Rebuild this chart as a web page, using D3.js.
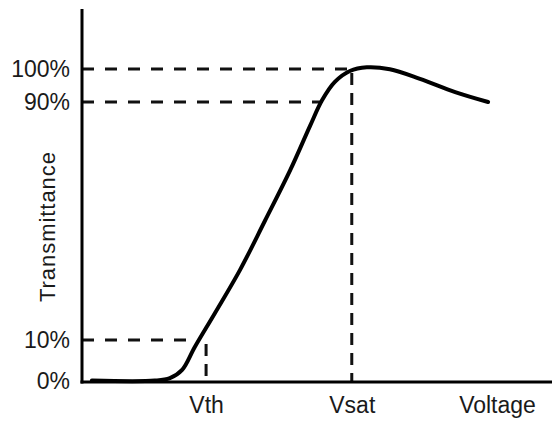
<!DOCTYPE html>
<html>
<head>
<meta charset="utf-8">
<script src="https://cdn.jsdelivr.net/npm/d3@7"></script>
<style>
  body { margin: 0; background: #fff; }
  svg { display: block; }
  text { font-family: "Liberation Sans", Arial, sans-serif; fill: #1a1a1a; }
</style>
</head>
<body>
<div id="chart"></div>
<script>
// voltage in arbitrary units (0..100), transmittance in %
const voltage = [2.1, 15.5, 18.7, 21.3, 24.0, 28.3, 33.6, 38.9, 44.3, 48.5, 51.1, 53.8, 57.0, 60.6, 65.5, 71.9, 79.4, 86.4];
const transmittance = [0.1, 0.1, 0.7, 2.7, 8.3, 19.1, 33.5, 50.0, 67.1, 81.9, 90.6, 96.1, 99.4, 100.5, 99.9, 97.0, 93.0, 90];

const yTicks = [0, 10, 90, 100];
const xTickValues = [26.4, 57.4, 88.3];
const xTickLabels = ["Vth", "Vsat", "Voltage"];

// dashed guides: horizontal level -> voltage where it stops
const hGuideLevels = [100, 90, 10];
const hGuideEnds = [57.4, 50.6, 23.4];
// vertical guides: voltage -> level where it starts
const vGuideVolts = [26.4, 57.4];
const vGuideTops = [10, 100];

const width = 552, height = 424;
const axisTop = 9;

const svg = d3.select('#chart').append('svg')
  .attr('width', width)
  .attr('height', height);

const x = d3.scaleLinear().domain([0, 100]).range([82, 552]);
// schematic chart: the percentage spacing is not uniform
const y = d3.scaleLinear().domain([0, 10, 90, 100]).range([381, 340, 102, 69]);

// dashed guides
svg.append('g').selectAll('line')
  .data(hGuideLevels)
  .enter().append('line')
  .attr('x1', x(0))
  .attr('x2', (d, i) => x(hGuideEnds[i]))
  .attr('y1', d => y(d))
  .attr('y2', d => y(d))
  .attr('stroke', '#111')
  .attr('stroke-width', 3)
  .attr('stroke-dasharray', '12,11');

svg.append('g').selectAll('line')
  .data(vGuideVolts)
  .enter().append('line')
  .attr('x1', d => x(d))
  .attr('x2', d => x(d))
  .attr('y1', (d, i) => y(vGuideTops[i]) + 4)
  .attr('y2', y(0))
  .attr('stroke', '#111')
  .attr('stroke-width', 3)
  .attr('stroke-dasharray', '12,8');

// axes
const yAxis = svg.append('g')
  .attr('transform', 'translate(' + x(0) + ',0)')
  .call(d3.axisLeft(y).tickValues(yTicks).tickSize(0).tickPadding(12).tickFormat(d => d + '%'));
yAxis.select('.domain').remove();
yAxis.selectAll('text').style('font-size', '23px');

const xAxis = svg.append('g')
  .attr('transform', 'translate(0,' + (y(0) + 1) + ')')
  .call(d3.axisBottom(x).tickValues(xTickValues).tickSize(0).tickPadding(15)
    .tickFormat((d, i) => xTickLabels[i]));
xAxis.select('.domain').remove();
xAxis.selectAll('text').style('font-size', '23px');

svg.append('line')
  .attr('x1', x(0)).attr('x2', x(0))
  .attr('y1', axisTop).attr('y2', y(0) + 2.5)
  .attr('stroke', '#000').attr('stroke-width', 3);
svg.append('line')
  .attr('x1', x(0) - 1.5).attr('x2', width)
  .attr('y1', y(0) + 1).attr('y2', y(0) + 1)
  .attr('stroke', '#000').attr('stroke-width', 3);

// y title
svg.append('text')
  .attr('transform', 'translate(55,227) rotate(-90)')
  .attr('text-anchor', 'middle')
  .attr('textLength', 150)
  .attr('lengthAdjust', 'spacing')
  .style('font-size', '22px')
  .text('Transmittance');

// curve
const pts = voltage.map((v, i) => [v, transmittance[i]]);
svg.append('path')
  .datum(pts)
  .attr('fill', 'none')
  .attr('stroke', '#000')
  .attr('stroke-width', 4)
  .attr('stroke-linecap', 'round')
  .attr('d', d3.line()
    .x(d => x(d[0]))
    .y(d => y(d[1]))
    .curve(d3.curveCatmullRom.alpha(0.5)));
</script>
</body>
</html>
